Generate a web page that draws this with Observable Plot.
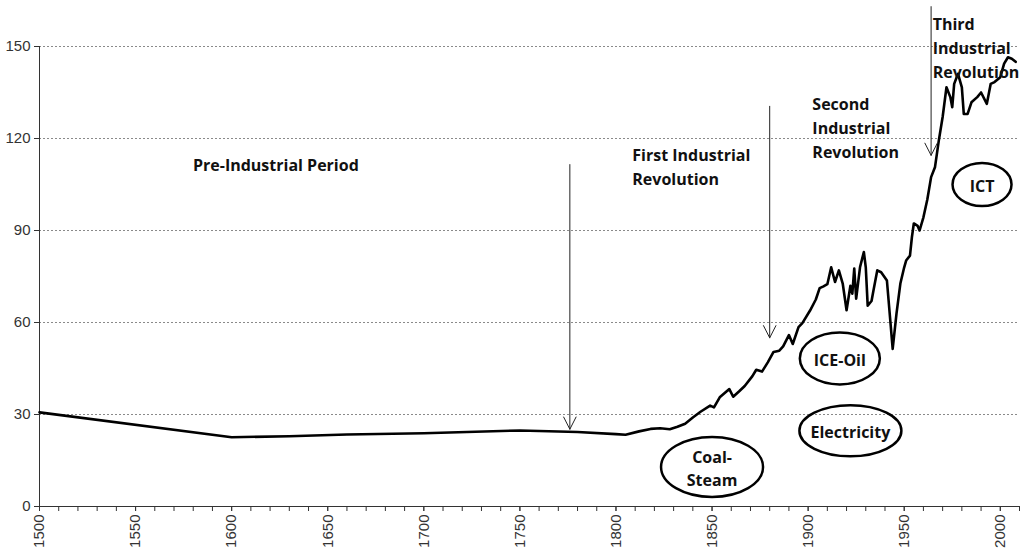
<!DOCTYPE html>
<html><head><meta charset="utf-8">
<script src="https://cdn.jsdelivr.net/npm/d3@7"></script>
<script src="https://cdn.jsdelivr.net/npm/@observablehq/plot@0.6"></script>
<style>body{margin:0;background:#fff} svg{display:block}</style>
</head><body><div id="chart"></div>
<script>
// ---- data ----
const years = [1500,1600,1630,1660,1700,1750,1780,1800,1805,1812,1818,1823,1828,1832,1836,1840,1844,1849,1851,1854,1859,1861,1864,1867,1871,1873,1876,1879,1882,1885,1887,1890,1892,1895,1897,1901,1904,1906,1908,1910,1912,1914,1916,1918,1920,1922,1923,1924,1925,1927,1929,1930,1931,1933,1934,1936,1938,1941,1944,1946,1948,1950,1951,1953,1954,1955,1957,1958,1960,1962,1964,1966,1968,1970,1972,1974,1975,1976,1978,1980,1981,1983,1985,1988,1990,1993,1995,1997,2000,2002,2004,2006,2008];
const values = [30.7,22.6,22.9,23.5,23.9,24.8,24.3,23.6,23.4,24.5,25.3,25.5,25.2,26.0,27.0,29.0,30.9,32.9,32.3,35.6,38.3,35.8,37.5,39.3,42.5,44.6,44.0,47.0,50.4,50.8,52.2,55.9,53.0,58.5,59.8,63.9,67.5,71.2,71.8,72.5,78.0,73.2,77.0,72.7,64.0,72.0,69.4,77.6,67.8,78.0,83.0,78.0,65.5,67.0,70.4,77.0,76.4,73.7,51.4,63.0,72.7,78.0,80.2,81.8,87.8,92.3,91.5,90.0,94.3,100.0,107.4,110.6,119.3,127.0,136.7,133.5,130.2,137.8,141.1,136.7,128.0,128.0,131.8,133.5,135.0,131.3,137.8,138.4,140.0,144.4,146.5,146.0,145.0];

const majorTicks = [1500,1550,1600,1650,1700,1750,1800,1850,1900,1950,2000];
const minorTicks = [1500,1510,1520,1530,1540,1550,1560,1570,1580,1590,1600,1610,1620,1630,1640,1650,1660,1670,1680,1690,1700,1710,1720,1730,1740,1750,1760,1770,1780,1790,1800,1810,1820,1830,1840,1850,1860,1870,1880,1890,1900,1910,1920,1930,1940,1950,1960,1970,1980,1990,2000,2010];
const yTicks = [0,30,60,90,120,150];
const gridTicks = [30,60,90,120,150];

const centredLabels = [{text:"Pre-Industrial Period", year:1623, value:111.0}];
const revolutionLabels = [
  {text:"First Industrial\nRevolution", year:1808.5, value:111.4},
  {text:"Second\nIndustrial\nRevolution", year:1902.2, value:123.9},
  {text:"Third\nIndustrial\nRevolution", year:1964.8, value:150.0}
];
const arrowYears = [1776, 1880, 1964];
const arrowFrom = [111.5, 130.5, 163];
const arrowTo = [25.2, 55, 114.5];

const techLabels = ["Coal-\nSteam", "Electricity", "ICE-Oil", "ICT"];
const techYears = [1850, 1922, 1916.5, 1990.5];
const techValues = [12.9, 24.7, 48.3, 105];
const techRx = [51, 51, 40, 29.5];
const techRy = [30, 25.5, 26, 21.5];

// ---- build ----
const series = years.map((y, i) => ({year: y, value: values[i]}));
const arrows = arrowYears.map((y, i) => ({year: y, from: arrowFrom[i], to: arrowTo[i]}));
const tech = techLabels.map((t, i) => ({text: t, year: techYears[i], value: techValues[i], rx: techRx[i], ry: techRy[i]}));

function ellipseSymbol(rx, ry) {
  const k = 0.5523;
  return {draw(ctx) {
    ctx.moveTo(rx, 0);
    ctx.bezierCurveTo(rx, k*ry, k*rx, ry, 0, ry);
    ctx.bezierCurveTo(-k*rx, ry, -rx, k*ry, -rx, 0);
    ctx.bezierCurveTo(-rx, -k*ry, -k*rx, -ry, 0, -ry);
    ctx.bezierCurveTo(k*rx, -ry, rx, -k*ry, rx, 0);
    ctx.closePath();
  }};
}

const annoFont = {fontFamily: "'Open Sans', sans-serif", fontWeight: "bold", fontSize: 16, fill: "#111"};

const chart = Plot.plot({
  width: 1024,
  height: 551,
  marginLeft: 39,
  marginRight: 5,
  marginTop: 46,
  marginBottom: 45,
  style: {fontFamily: "'Liberation Sans', Arial, sans-serif", background: "#fff", overflow: "visible"},
  x: {domain: [1500, 2010]},
  y: {domain: [0, 150]},
  marks: [
    Plot.gridY(gridTicks, {stroke: "#8a8a8a", strokeOpacity: 1, strokeDasharray: "2,2", strokeWidth: 1}),
    Plot.ruleY([0], {stroke: "#333"}),
    Plot.ruleX([1500], {stroke: "#333", y1: 0, y2: 150}),
    Plot.axisY(yTicks, {tickSize: 5, tickPadding: 4, fontSize: 15, fill: "#333", stroke: "#333", tickFormat: d => String(d)}),
    Plot.axisX(minorTicks, {tickSize: 5, stroke: "#333", tickFormat: () => "", label: null}),
    Plot.axisX(majorTicks, {tickSize: 5, tickPadding: 3, tickRotate: -90, fontSize: 15, fill: "#333", stroke: "#333", tickFormat: d => String(d), label: null}),
    Plot.line(series, {x: "year", y: "value", stroke: "#000", strokeWidth: 2.6, strokeLinejoin: "round"}),
    Plot.arrow(arrows, {x1: "year", x2: "year", y1: "from", y2: "to", stroke: "#222", strokeWidth: 1, headLength: 20.5, headAngle: 54}),
    Plot.text(centredLabels, {x: "year", y: "value", text: "text", textAnchor: "middle", ...annoFont}),
    Plot.text(revolutionLabels, {x: "year", y: "value", text: "text", textAnchor: "start", lineHeight: 1.5, lineAnchor: "middle", ...annoFont}),
    ...tech.map(d => Plot.dot([d], {x: "year", y: "value", symbol: ellipseSymbol(d.rx, d.ry), stroke: "#000", strokeWidth: 2.5, fill: "none"})),
    Plot.text(tech, {x: "year", y: "value", text: "text", textAnchor: "middle", lineAnchor: "middle", lineHeight: 1.45, ...annoFont})
  ]
});
document.getElementById("chart").appendChild(chart);
</script>
</body></html>
